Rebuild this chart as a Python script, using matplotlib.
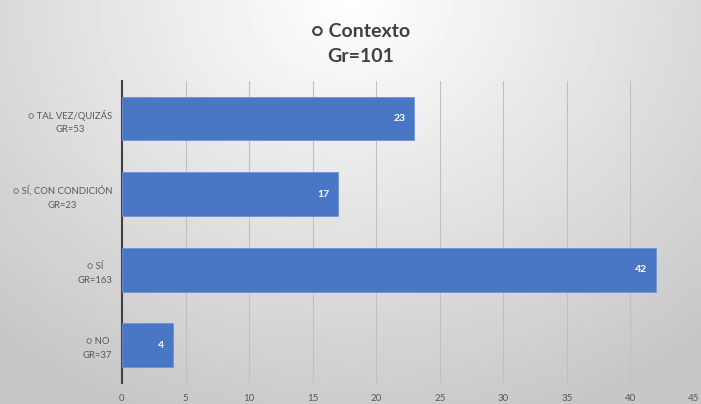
import numpy as np
import matplotlib
matplotlib.use('Agg')
import matplotlib.pyplot as plt

plt.rcParams['font.family'] = ['Lato', 'DejaVu Sans']

# data (bottom -> top)
categories = ['○ NO\nGR=37', '○ SÍ\nGR=163', '○ SÍ, CON CONDICIÓN\nGR=23', '○ TAL VEZ/QUIZÁS\nGR=53']
values = [4, 42, 17, 23]
xticks = [0, 5, 10, 15, 20, 25, 30, 35, 40, 45]
title = '○ Contexto\nGr=101'

fig = plt.figure(figsize=(7.01, 4.04), dpi=100)

# radial gray background, light at top centre
bg = fig.add_axes([0, 0, 1, 1], zorder=-10)
yy, xx = np.mgrid[0:1:404j, 0:1:701j]
r = np.sqrt(((xx - 0.5) / 0.75) ** 2 + ((yy - 0.0) / 1.1) ** 2)
shade = np.clip(1.0 - 0.22 * r, 0.78, 1.0)
bg.imshow(shade, cmap='gray', vmin=0, vmax=1, aspect='auto', extent=[0, 1, 1, 0])
bg.axis('off')

ax = fig.add_axes([0.174, 0.052, 0.816, 0.748])
ax.patch.set_alpha(0)
y = np.arange(len(categories))
ax.barh(y, values, height=0.58, color='#4a76c6', edgecolor='#6f93d6', linewidth=0.6, zorder=3)

for yi, v in zip(y, values):
    ax.annotate(str(v), (v, yi), xytext=(-6, 0), textcoords='offset points',
                ha='right', va='center', color='white', fontsize=7.5, fontweight='bold', zorder=4)

ax.set_xlim(0, 45)
ax.set_ylim(-0.5, 3.5)
ax.set_xticks(xticks)
ax.set_yticks(y)
ax.set_yticklabels(categories, multialignment='center', linespacing=1.7)
ax.tick_params(axis='x', length=0, pad=8, labelsize=7, labelcolor='#595959')
ax.tick_params(axis='y', length=0, pad=7, labelsize=6.8, labelcolor='#595959')
ax.grid(axis='x', color='#c0c0c0', linewidth=0.8, zorder=0)
for s in ['top', 'right', 'bottom']:
    ax.spines[s].set_visible(False)
ax.spines['left'].set_color('#404040')
ax.spines['left'].set_linewidth(1.5)

fig.text(0.515, 0.944, title, ha='center', va='top', fontsize=14, fontweight='bold',
         color='#404040', linespacing=1.6)

fig.savefig('out.png', dpi=100)
